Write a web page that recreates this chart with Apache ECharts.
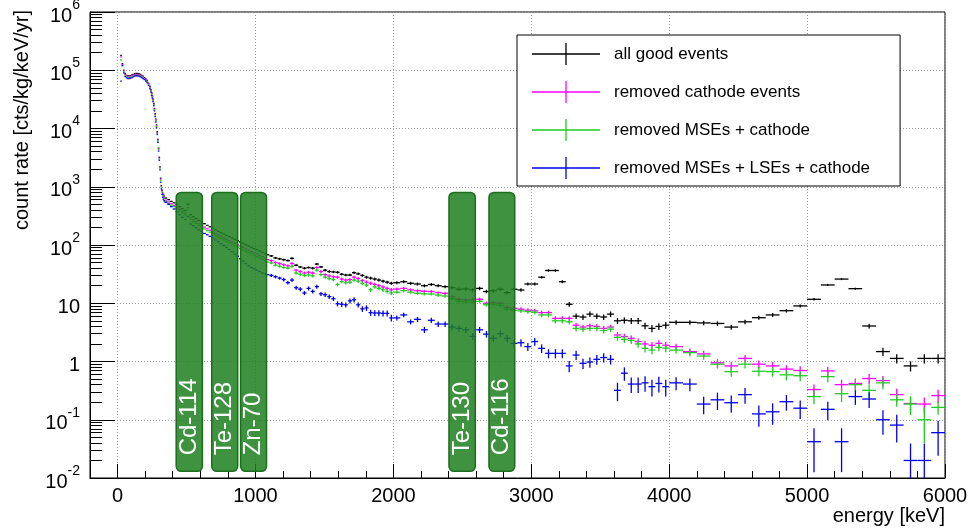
<!DOCTYPE html>
<html><head><meta charset="utf-8">
<script src="https://cdn.jsdelivr.net/npm/echarts@6/dist/echarts.min.js"></script>
<style>html,body{margin:0;padding:0;background:#fff}#chart{width:972px;height:531px}</style>
</head><body><div id="chart"></div>
<script>
// ---------- DATA ----------
// histogram binning: [low edge, high edge, bin width] in keV
const binSpec = [[20,240,10],[240,340,5],[340,1100,20],[1100,2000,30],[2000,4000,50],[4000,6000,100]];
const seriesNames = ['all good events','removed cathode events','removed MSEs + cathode','removed MSEs + LSEs + cathode'];
const seriesColors = ['#000000','#ff00ff','#22cc22','#0000ee'];

// count rate [cts/kg/keV/yr], one value per bin (170 bins)
const allGood = [
 1.8e5,1.3e5,1.0e5,8.8e4,8.2e4,8.0e4,8.0e4,8.1e4,8.3e4,8.5e4,8.7e4,8.8e4,8.8e4,8.7e4,8.5e4,8.2e4,7.9e4,7.5e4,7.1e4,6.7e4,6.0e4,5.3e4,
 4.6e4,4.1e4,3.6e4,3.2e4,2.7e4,2.2e4,1.8e4,1.45e4,1.15e4,8.8e3,6.5e3,4.6e3,3.2e3,2.2e3,1.4e3,1.05e3,870,780,730,690,
 640,600,560,530,495,455,420,390,500,330,305,285,265,250,232,217,205,193,182,172,163,154,146,139,132,125,119,113,107,101,96,91,87,83,79,75,71,68,
 65,60,58,56,54,59,45,42,40,41,40,47,42,37,35,34.5,34,31.5,30.5,30.5,33.5,32,30,28,27,26,25,24,23,22,
 22.5,23.4,22,21.4,20,21,20,19.3,18.5,17.4,17.6,17.0,18,15.9,16.4,17.4,15.2,17.4,16.9,21.4,21.4,28,36.5,36.5,23.4,9.6,6.0,5.8,6.5,6.0,5.8,6.5,5.0,5.1,5.0,5.0,4.1,3.7,4.0,4.2,
 4.7,4.7,4.6,4.5,3.9,4.8,5.65,6.3,7.45,9.0,11.7,20.6,26,17.8,4.07,1.48,1.13,0.84,1.13,1.13
];
const noCathode = [
 1.7e5,1.25e5,9.7e4,8.5e4,8.0e4,7.8e4,7.8e4,7.9e4,8.1e4,8.3e4,8.4e4,8.5e4,8.5e4,8.4e4,8.2e4,8.0e4,7.7e4,7.3e4,6.9e4,6.5e4,5.8e4,5.1e4,
 4.5e4,4.0e4,3.5e4,3.1e4,2.6e4,2.15e4,1.75e4,1.4e4,1.12e4,8.5e3,6.3e3,4.5e3,3.1e3,2.15e3,1.35e3,1.02e3,840,750,700,655,
 590,550,510,480,445,410,378,350,440,295,270,252,234,220,203,190,179,168,158,149,141,133,126,119,113,107,101,96,91,86,81,77,73,70,66,63,59,56,
 54,50,48,46,44,48,37,35,33,34,33,41,35,31,29.5,28.5,28,26,25,25.5,28,26.5,24.5,23,22,21,20,19,18,17,
 17.5,18,17,16.4,16,15.9,15.2,14.8,13,11.7,11.4,11.5,11.7,10,10.2,10,8.5,8.2,7.9,7.6,7.4,6.9,6.9,5.5,5.5,5.5,4.2,3.9,4.1,4.0,3.7,3.9,2.85,2.67,2.5,2.2,2.0,1.9,2.05,1.9,
 1.8,1.48,1.35,0.95,0.84,1.13,0.9,0.84,0.74,0.70,0.33,0.69,0.40,0.42,0.51,0.47,0.27,0.19,0.186,0.26
];
const noMSE = [
 1.5e5,1.2e5,9.4e4,8.2e4,7.7e4,7.5e4,7.5e4,7.6e4,7.8e4,8.0e4,8.1e4,8.2e4,8.2e4,8.1e4,7.9e4,7.7e4,7.4e4,7.0e4,6.6e4,6.2e4,5.6e4,4.9e4,
 4.4e4,3.9e4,3.45e4,3.05e4,2.55e4,2.1e4,1.7e4,1.37e4,1.09e4,8.3e3,6.1e3,4.4e3,3.0e3,2.1e3,1.3e3,990,810,720,670,630,
 560,520,485,455,420,385,355,328,400,275,252,235,218,204,189,176,166,155,146,137,129,122,115,109,103,97,92,87,82,78,74,70,66,63,60,57,54,51,
 49,45,43,41,40,43,33,31.5,30,30.5,29.5,37,31,28,26.5,25.5,21,23.5,22.5,23,25,24,22,20.5,17,19,18,17,16,15,
 15.5,16.5,15.5,14.8,14.5,14.4,13.8,13.3,12,10.8,10.5,10.5,10.8,9.4,9.6,9.2,7.9,7.6,7.4,7.2,7.0,6.3,6.3,5.0,5.0,4.8,3.7,3.6,3.7,3.7,3.4,3.6,2.6,2.4,2.3,2.0,1.68,1.57,1.75,1.7,
 1.57,1.42,1.24,0.9,0.67,0.9,0.68,0.67,0.59,0.57,0.25,0.55,0.28,0.40,0.32,0.43,0.22,0.186,0.10,0.163
];
const noLSE = [
 6.5e4,1.2e5,9.0e4,7.8e4,7.4e4,7.2e4,7.2e4,7.3e4,7.5e4,7.7e4,7.9e4,8.0e4,8.0e4,7.9e4,7.7e4,7.5e4,7.2e4,6.9e4,6.5e4,6.1e4,5.5e4,4.8e4,
 4.2e4,3.7e4,3.3e4,2.9e4,2.45e4,2.0e4,1.6e4,1.3e4,1.03e4,7.9e3,5.8e3,4.1e3,2.85e3,1.95e3,1.2e3,920,740,660,610,575,
 540,500,455,415,370,330,300,275,310,230,213,198,183,170,158,150,141,132,122,113,105,98,91,84,77,70,64,58,53,48,44,41,39,37,35,33,32,31,
 30,28.5,27,25.5,22.5,25,18.5,17.5,15,18,16,19.3,14.5,14,13,12,9.8,9.6,9.4,11,11.5,9.4,8.0,8.3,6.9,6.8,6.8,6.7,6.7,5.6,
 5.6,6.3,4.8,5.3,3.5,5.1,4.4,4.4,3.9,3.7,3.5,2.7,3.5,2.95,2.5,3.0,2.5,2.05,2.1,1.8,2.2,1.68,1.38,1.38,1.38,0.84,1.29,0.93,0.98,1.09,1.17,1.09,0.32,0.63,0.41,0.41,0.43,0.37,0.42,0.37,
 0.43,0.41,0.186,0.22,0.196,0.27,0.126,0.137,0.204,0.158,0.042,0.151,0.042,0.25,0.227,0.10,0.081,0.020,0.020,0.060
];

// relative statistical errors for the bins from 1100 keV upward (90 bins)
const errStartKeV = 1100;
const errAllGood = [
 0.04,0.04,0.04,0.04,0.04,0.04,0.04,0.04,0.05,0.04,0.05,0.04,0.04,0.05,0.05,0.05,0.05,0.05,0.05,0.05,0.05,0.05,0.05,0.06,0.06,0.06,0.06,0.06,0.06,0.06,
 0.06,0.06,0.06,0.06,0.06,0.06,0.06,0.06,0.06,0.07,0.07,0.07,0.07,0.07,0.07,0.07,0.07,0.07,0.07,0.06,0.06,0.05,0.05,0.05,0.06,0.09,0.11,0.11,0.11,0.11,0.11,0.11,0.12,0.12,0.12,0.12,0.13,0.14,0.13,0.13,
 0.09,0.09,0.09,0.09,0.1,0.09,0.08,0.08,0.07,0.06,0.05,0.04,0.04,0.04,0.09,0.16,0.18,0.2,0.18,0.18
];
const errNoCathode = [
 0.05,0.05,0.05,0.05,0.05,0.05,0.05,0.05,0.06,0.06,0.06,0.05,0.06,0.06,0.06,0.06,0.06,0.06,0.06,0.06,0.06,0.06,0.06,0.07,0.07,0.07,0.07,0.07,0.07,0.07,
 0.06,0.06,0.06,0.06,0.06,0.06,0.06,0.06,0.07,0.07,0.07,0.07,0.07,0.07,0.07,0.07,0.08,0.08,0.08,0.08,0.08,0.08,0.08,0.09,0.09,0.09,0.1,0.1,0.1,0.1,0.1,0.1,0.12,0.12,0.12,0.13,0.13,0.14,0.13,0.14,
 0.12,0.13,0.13,0.15,0.16,0.14,0.16,0.16,0.17,0.18,0.22,0.18,0.22,0.22,0.2,0.2,0.26,0.3,0.3,0.26
];
const errNoMSE = [
 0.05,0.05,0.05,0.05,0.05,0.05,0.06,0.06,0.06,0.06,0.06,0.06,0.06,0.06,0.06,0.06,0.07,0.06,0.07,0.07,0.06,0.07,0.07,0.07,0.08,0.07,0.07,0.08,0.08,0.08,
 0.06,0.06,0.06,0.06,0.06,0.06,0.07,0.07,0.07,0.07,0.07,0.07,0.07,0.07,0.07,0.08,0.08,0.08,0.08,0.08,0.08,0.09,0.09,0.1,0.1,0.1,0.11,0.11,0.11,0.11,0.11,0.11,0.13,0.13,0.13,0.14,0.15,0.15,0.14,0.15,
 0.13,0.14,0.14,0.16,0.18,0.16,0.18,0.18,0.2,0.2,0.26,0.2,0.28,0.24,0.26,0.22,0.24,0.35,0.6,0.25
];
const errNoLSE = [
 0.06,0.06,0.06,0.07,0.07,0.07,0.08,0.08,0.08,0.08,0.08,0.08,0.08,0.09,0.09,0.09,0.1,0.1,0.1,0.1,0.1,0.1,0.11,0.11,0.12,0.12,0.12,0.12,0.12,0.13,
 0.1,0.09,0.1,0.1,0.12,0.1,0.11,0.11,0.12,0.12,0.12,0.14,0.12,0.13,0.14,0.13,0.14,0.15,0.15,0.16,0.15,0.17,0.18,0.18,0.18,0.22,0.18,0.2,0.2,0.19,0.18,0.19,0.35,0.26,0.3,0.3,0.3,0.32,0.3,0.32,
 0.25,0.25,0.33,0.33,0.33,0.3,0.4,0.4,0.3,0.35,0.7,0.35,0.7,0.28,0.3,0.45,0.5,0.95,0.95,0.6
];

// Q-value windows [low keV, high keV, isotope]
const bands = [[425,615,'Cd-114'],[683,871,'Te-128'],[892,1080,'Zn-70'],[2403,2594,'Te-130'],[2693,2880,'Cd-116']];
const bandRate = [0.013, 800]; // vertical extent of the windows (count rate)

// axes
const xRange = [-200, 6000];
const xTicks = [0,1000,2000,3000,4000,5000,6000];
const xMinorStep = 200;
const yRange = [0.01, 1e6];
const yDecades = [0.01,0.1,1,10,100,1e3,1e4,1e5,1e6];
const yMantissas = [2,3,4,5,6,7,8,9];

// ---------- BUILD ----------
const FONT = 'Liberation Sans, Arial, Helvetica, sans-serif';
const bins = [];
binSpec.forEach(([a, b, w]) => { for (let lo = a; lo < b - 1e-9; lo += w) bins.push([lo, lo + w]); });
const errOffset = bins.findIndex(b => b[0] >= errStartKeV);
const yMinor = [];
yDecades.slice(0, -1).forEach(d => yMantissas.forEach(m => yMinor.push(+(m * d).toPrecision(3))));

function seriesData(vals, errs) {
  return bins.map((b, i) => {
    const j = i - errOffset;
    return [(b[0] + b[1]) / 2, vals[i], b[0], b[1], j >= 0 ? errs[j] : 0];
  });
}

function crossSeries(name, color, vals, errs) {
  return {
    type: 'custom', name, coordinateSystem: 'cartesian2d', xAxisIndex: 0, yAxisIndex: 0,
    clip: true, silent: true, z: 2,
    itemStyle: { color },
    encode: { x: 0, y: 1 },
    data: seriesData(vals, errs),
    renderItem(params, api) {
      const c = api.value(0), v = api.value(1), lo = api.value(2), hi = api.value(3), r = api.value(4);
      if (!(v > 0)) return;
      const pL = api.coord([lo, v]), pR = api.coord([hi, v]);
      let x1 = pL[0], x2 = pR[0];
      if (x2 - x1 < 1.6) { const m = (x1 + x2) / 2; x1 = m - 0.8; x2 = m + 0.8; }
      const st = { stroke: color, lineWidth: 1.3 };
      const kids = [{ type: 'line', shape: { x1, y1: pL[1], x2, y2: pR[1] }, style: st }];
      if (r > 0) {
        const top = api.coord([c, v * (1 + r)]);
        const bot = api.coord([c, Math.max(v * (1 - r), yRange[0] * 0.5)]);
        kids.push({ type: 'line', shape: { x1: top[0], y1: top[1], x2: bot[0], y2: bot[1] }, style: st });
      }
      return { type: 'group', children: kids };
    }
  };
}

const bandSeries = {
  type: 'custom', name: 'windows', coordinateSystem: 'cartesian2d', silent: true, z: 5,
  encode: { x: [0, 1] },
  data: bands.map(b => [b[0], b[1]]),
  renderItem(params, api) {
    const lo = api.value(0), hi = api.value(1);
    const p1 = api.coord([lo, bandRate[1]]), p2 = api.coord([hi, bandRate[0]]);
    return {
      type: 'group', children: [
        { type: 'rect', shape: { x: p1[0], y: p1[1], width: p2[0] - p1[0], height: p2[1] - p1[1], r: 5 },
          style: { fill: 'rgba(32,128,32,0.86)', stroke: '#1c6e1c', lineWidth: 1.5 } },
        { type: 'text', x: (p1[0] + p2[0]) / 2, y: p2[1] - 16, rotation: Math.PI / 2,
          style: { text: bands[params.dataIndex][2], fill: '#ffffff', fontSize: 24, fontFamily: FONT,
                   align: 'left', verticalAlign: 'middle' } }
      ]
    };
  }
};

const crossIcon = 'path://M0,10.35 L68,10.35 L68,11.65 L0,11.65 Z M33.35,0 L34.65,0 L34.65,22 L33.35,22 Z';

const option = {
  animation: false,
  backgroundColor: '#ffffff',
  grid: { left: 90, right: 27, top: 12, bottom: 53, show: true, borderColor: '#000', borderWidth: 1,
          backgroundColor: 'transparent', outerBoundsMode: 'none' },
  legend: {
    data: seriesNames, orient: 'vertical', left: 517, top: 35,
    padding: [8, 30, 7, 15], itemWidth: 68, itemHeight: 22, itemGap: 16,
    icon: crossIcon, borderColor: '#000', borderWidth: 1, backgroundColor: '#fff',
    selectedMode: false,
    textStyle: { fontSize: 17, color: '#000', fontFamily: FONT, padding: [0, 0, 0, 9] }
  },
  xAxis: [
    { type: 'value', min: xRange[0], max: xRange[1], position: 'bottom',
      axisLine: { show: true, onZero: false, lineStyle: { color: '#000', width: 1 } },
      axisTick: { show: true, inside: true, length: 14, customValues: xTicks, lineStyle: { color: '#000' } },
      axisLabel: { customValues: xTicks, fontSize: 20, color: '#000', margin: 8, fontFamily: FONT,
                   formatter: v => String(v) },
      splitLine: { show: true, lineStyle: { color: '#9c9c9c', type: [1, 2], width: 1 } },
      name: 'energy [keV]', nameLocation: 'end', nameGap: 0,
      nameTextStyle: { fontSize: 20, color: '#000', fontFamily: FONT, align: 'right', verticalAlign: 'top', padding: [28, 0, 0, 0] }
    },
    { type: 'value', min: xRange[0], max: xRange[1], interval: xMinorStep, position: 'bottom',
      axisLine: { show: false, onZero: false }, axisLabel: { show: false }, splitLine: { show: false },
      axisTick: { show: true, inside: true, length: 7, lineStyle: { color: '#000' } }
    }
  ],
  yAxis: [
    { type: 'log', logBase: 10, min: yRange[0], max: yRange[1], position: 'left',
      axisLine: { show: true, onZero: false, lineStyle: { color: '#000', width: 1 } },
      axisTick: { show: true, inside: true, length: 25, customValues: yDecades, lineStyle: { color: '#000' } },
      axisLabel: {
        customValues: yDecades, margin: 10, color: '#000', fontFamily: FONT,
        formatter(v) {
          const e = Math.round(Math.log10(v));
          if (e === 0) return '{b|1}';
          if (e === 1) return '{b|10}';
          return '{b|10}{s|' + e + '}';
        },
        rich: {
          b: { fontSize: 20, fontFamily: FONT, color: '#000', verticalAlign: 'bottom', lineHeight: 28 },
          s: { fontSize: 14, fontFamily: FONT, color: '#000', verticalAlign: 'top', lineHeight: 16 }
        }
      },
      splitLine: { show: true, lineStyle: { color: '#9c9c9c', type: [1, 2], width: 1 } },
      name: 'count rate [cts/kg/keV/yr]', nameLocation: 'end', nameGap: 2, nameRotate: 90,
      nameTextStyle: { fontSize: 20, color: '#000', fontFamily: FONT, align: 'right', verticalAlign: 'bottom', padding: [0, 0, 58, 0] }
    },
    { type: 'log', logBase: 10, min: yRange[0], max: yRange[1], position: 'left',
      axisLine: { show: false, onZero: false }, axisLabel: { show: false }, splitLine: { show: false },
      axisTick: { show: true, inside: true, length: 12, customValues: yMinor, lineStyle: { color: '#000' } }
    }
  ],
  series: [
    crossSeries(seriesNames[0], seriesColors[0], allGood, errAllGood),
    crossSeries(seriesNames[1], seriesColors[1], noCathode, errNoCathode),
    crossSeries(seriesNames[2], seriesColors[2], noMSE, errNoMSE),
    crossSeries(seriesNames[3], seriesColors[3], noLSE, errNoLSE),
    bandSeries
  ]
};

[allGood, noCathode, noMSE, noLSE].forEach((a, i) => { if (a.length !== bins.length) console.error('len mismatch', i, a.length, bins.length); });
[errAllGood, errNoCathode, errNoMSE, errNoLSE].forEach((a, i) => { if (a.length !== bins.length - errOffset) console.error('err len mismatch', i, a.length); });

const chart = echarts.init(document.getElementById('chart'), null, { renderer: 'canvas' });
chart.setOption(option);
</script>
</body></html>
